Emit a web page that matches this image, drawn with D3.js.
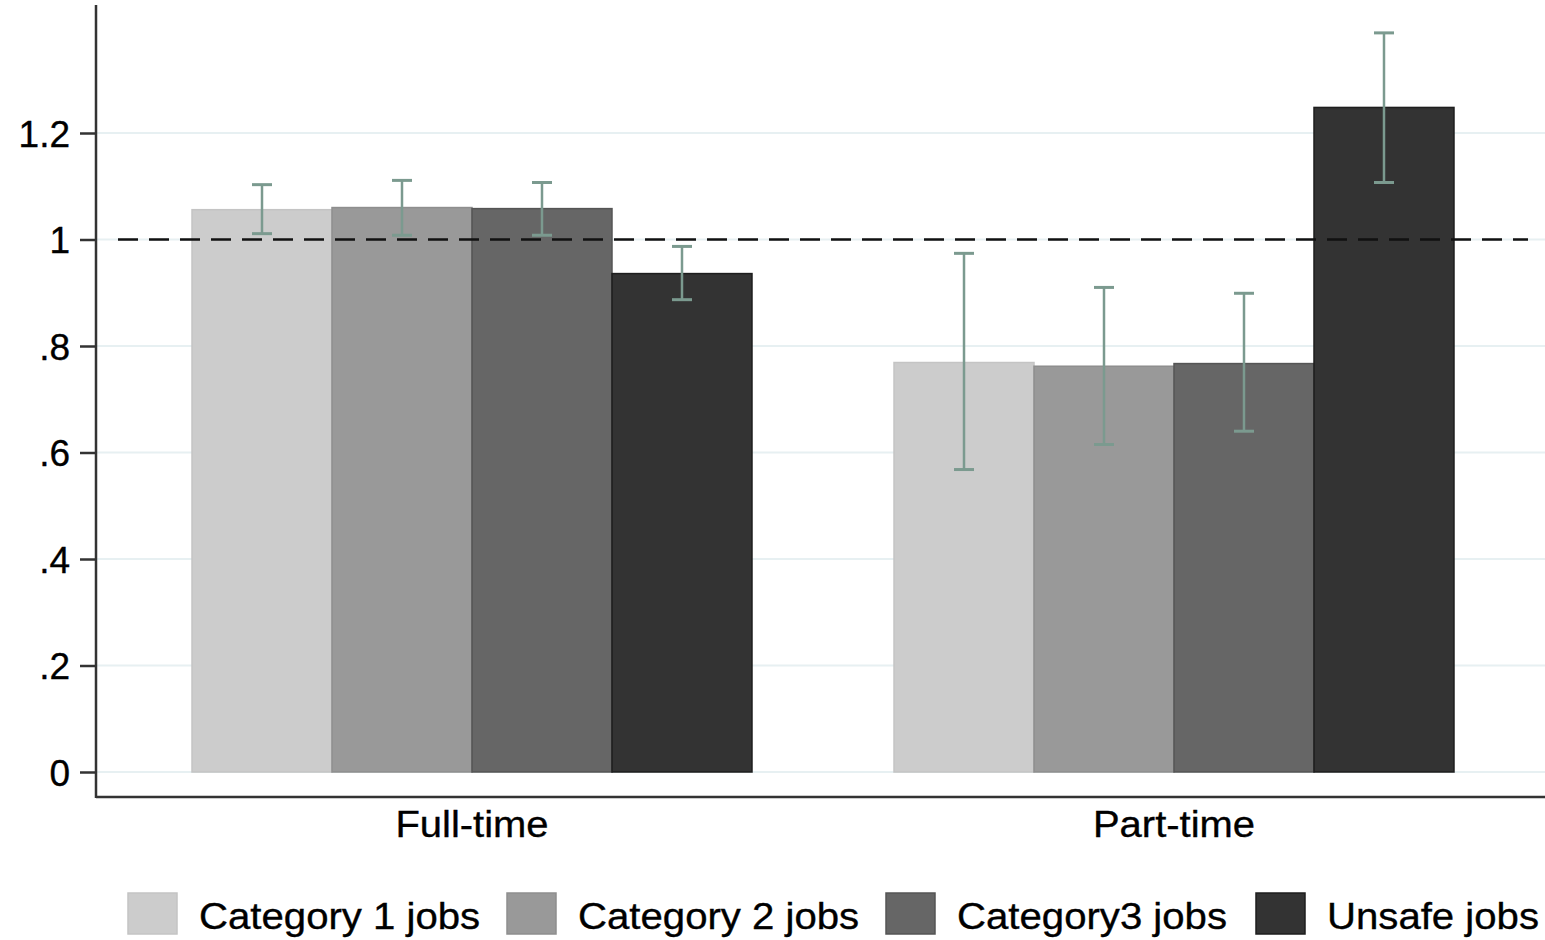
<!DOCTYPE html>
<html>
<head>
<meta charset="utf-8">
<script src="https://cdn.jsdelivr.net/npm/d3@7"></script>
<style>
  html, body { margin: 0; padding: 0; background: #fff; }
  svg { display: block; }
  text { font-family: "Liberation Sans", Arial, Helvetica, sans-serif; fill: #000; stroke: #000; stroke-width: 0.35px; }
</style>
</head>
<body>
<svg id="chart" width="1545" height="940"></svg>
<script>
// Groups and series
const groups = ["Full-time", "Part-time"];
const series = ["Category 1 jobs", "Category 2 jobs", "Category3 jobs", "Unsafe jobs"];
const seriesColors = ["#cccccc", "#999999", "#666666", "#333333"];
const seriesStroke = ["#c4c4c4", "#8e8e8e", "#555555", "#1e1e1e"];

// Bar heights, one array per group (order follows `series`)
const fullTimeValues = [1.056, 1.060, 1.058, 0.936];
const partTimeValues = [0.769, 0.762, 0.767, 1.248];

// Confidence interval bounds
const fullTimeLower = [1.011, 1.008, 1.008, 0.887];
const fullTimeUpper = [1.103, 1.111, 1.107, 0.987];
const partTimeLower = [0.568, 0.615, 0.640, 1.107];
const partTimeUpper = [0.974, 0.910, 0.899, 1.388];

// Y axis ticks
const yTicks = [0, 0.2, 0.4, 0.6, 0.8, 1, 1.2];
const yTickLabels = ["0", ".2", ".4", ".6", ".8", "1", "1.2"];
const referenceValue = 1;

const valuesByGroup = [fullTimeValues, partTimeValues];
const lowerByGroup = [fullTimeLower, partTimeLower];
const upperByGroup = [fullTimeUpper, partTimeUpper];

const rows = [];
groups.forEach((g, gi) => {
  series.forEach((s, si) => {
    rows.push({
      group: g, series: s, si,
      value: valuesByGroup[gi][si],
      lo: lowerByGroup[gi][si],
      hi: upperByGroup[gi][si]
    });
  });
});

const svg = d3.select("#chart");
const axisX = 96, axisBottom = 797, plotRight = 1545;

const y = d3.scaleLinear().domain([0, 1.2]).range([772, 133]);
const x0 = d3.scaleBand().domain(groups).range([98.5, 1547.5])
  .paddingInner(0.2023).paddingOuter(0.1332);
const x1 = d3.scaleBand().domain(series).range([0, x0.bandwidth()]);

// Widen a text element a little (the label face runs wider than Arial metrics)
function widen(sel, k) {
  sel.each(function () {
    const w = this.getComputedTextLength();
    d3.select(this).attr("textLength", w * k).attr("lengthAdjust", "spacingAndGlyphs");
  });
}

// Horizontal grid lines
svg.append("g").selectAll("line").data(yTicks).join("line")
  .attr("x1", axisX).attr("x2", plotRight)
  .attr("y1", d => y(d)).attr("y2", d => y(d))
  .attr("stroke", "#e7f0f2").attr("stroke-width", 2);

// Bars
svg.append("g").selectAll("rect").data(rows).join("rect")
  .attr("x", d => x0(d.group) + x1(d.series))
  .attr("y", d => y(d.value))
  .attr("width", x1.bandwidth())
  .attr("height", d => y(0) - y(d.value))
  .attr("fill", d => seriesColors[d.si])
  .attr("stroke", d => seriesStroke[d.si])
  .attr("stroke-width", 1.5);

// Reference line at 1
svg.append("line")
  .attr("x1", 118).attr("x2", 1528)
  .attr("y1", y(referenceValue)).attr("y2", y(referenceValue))
  .attr("stroke", "#111").attr("stroke-width", 2.5)
  .attr("stroke-dasharray", "20,11");

// Error bars
const errColor = "#7b9a8f";
const cap = 10;
const eg = svg.append("g").attr("stroke", errColor).attr("stroke-width", 2.5);
rows.forEach(d => {
  const cx = x0(d.group) + x1(d.series) + x1.bandwidth() / 2;
  eg.append("line").attr("x1", cx).attr("x2", cx).attr("y1", y(d.hi)).attr("y2", y(d.lo));
  eg.append("line").attr("x1", cx - cap).attr("x2", cx + cap).attr("y1", y(d.hi)).attr("y2", y(d.hi)).attr("stroke-width", 3);
  eg.append("line").attr("x1", cx - cap).attr("x2", cx + cap).attr("y1", y(d.lo)).attr("y2", y(d.lo)).attr("stroke-width", 3);
});

// Y axis
const yAxis = d3.axisLeft(y).tickValues(yTicks)
  .tickFormat((d, i) => yTickLabels[i]).tickSize(16).tickPadding(10);
const gy = svg.append("g").attr("transform", `translate(${axisX},0)`).call(yAxis);
gy.select(".domain").remove();
gy.selectAll(".tick line").attr("stroke", "#333").attr("stroke-width", 2.5);
gy.selectAll(".tick text").attr("font-size", 37).attr("dy", "0.36em")
  .attr("font-family", "Liberation Sans, Arial, sans-serif");

svg.append("line").attr("x1", axisX).attr("x2", axisX).attr("y1", 5).attr("y2", axisBottom + 1)
  .attr("stroke", "#333").attr("stroke-width", 2.5);

// X axis
svg.append("line").attr("x1", axisX).attr("x2", plotRight).attr("y1", axisBottom).attr("y2", axisBottom)
  .attr("stroke", "#333").attr("stroke-width", 2.5);
svg.append("g").selectAll("text").data(groups).join("text")
  .attr("x", d => x0(d) + x0.bandwidth() / 2)
  .attr("y", 837)
  .attr("text-anchor", "middle")
  .attr("font-size", 37)
  .text(d => d)
  .call(widen, 1.08);

// Legend
const legendX = [128, 507, 886, 1256];
const lg = svg.append("g").selectAll("g").data(series).join("g")
  .attr("transform", (d, i) => `translate(${legendX[i]},893)`);
lg.append("rect").attr("width", 49).attr("height", 41)
  .attr("fill", (d, i) => seriesColors[i])
  .attr("stroke", (d, i) => seriesStroke[i]).attr("stroke-width", 1.5);
lg.append("text").attr("x", 71).attr("y", 36).attr("font-size", 37).text(d => d)
  .call(widen, 1.085);
</script>
</body>
</html>
